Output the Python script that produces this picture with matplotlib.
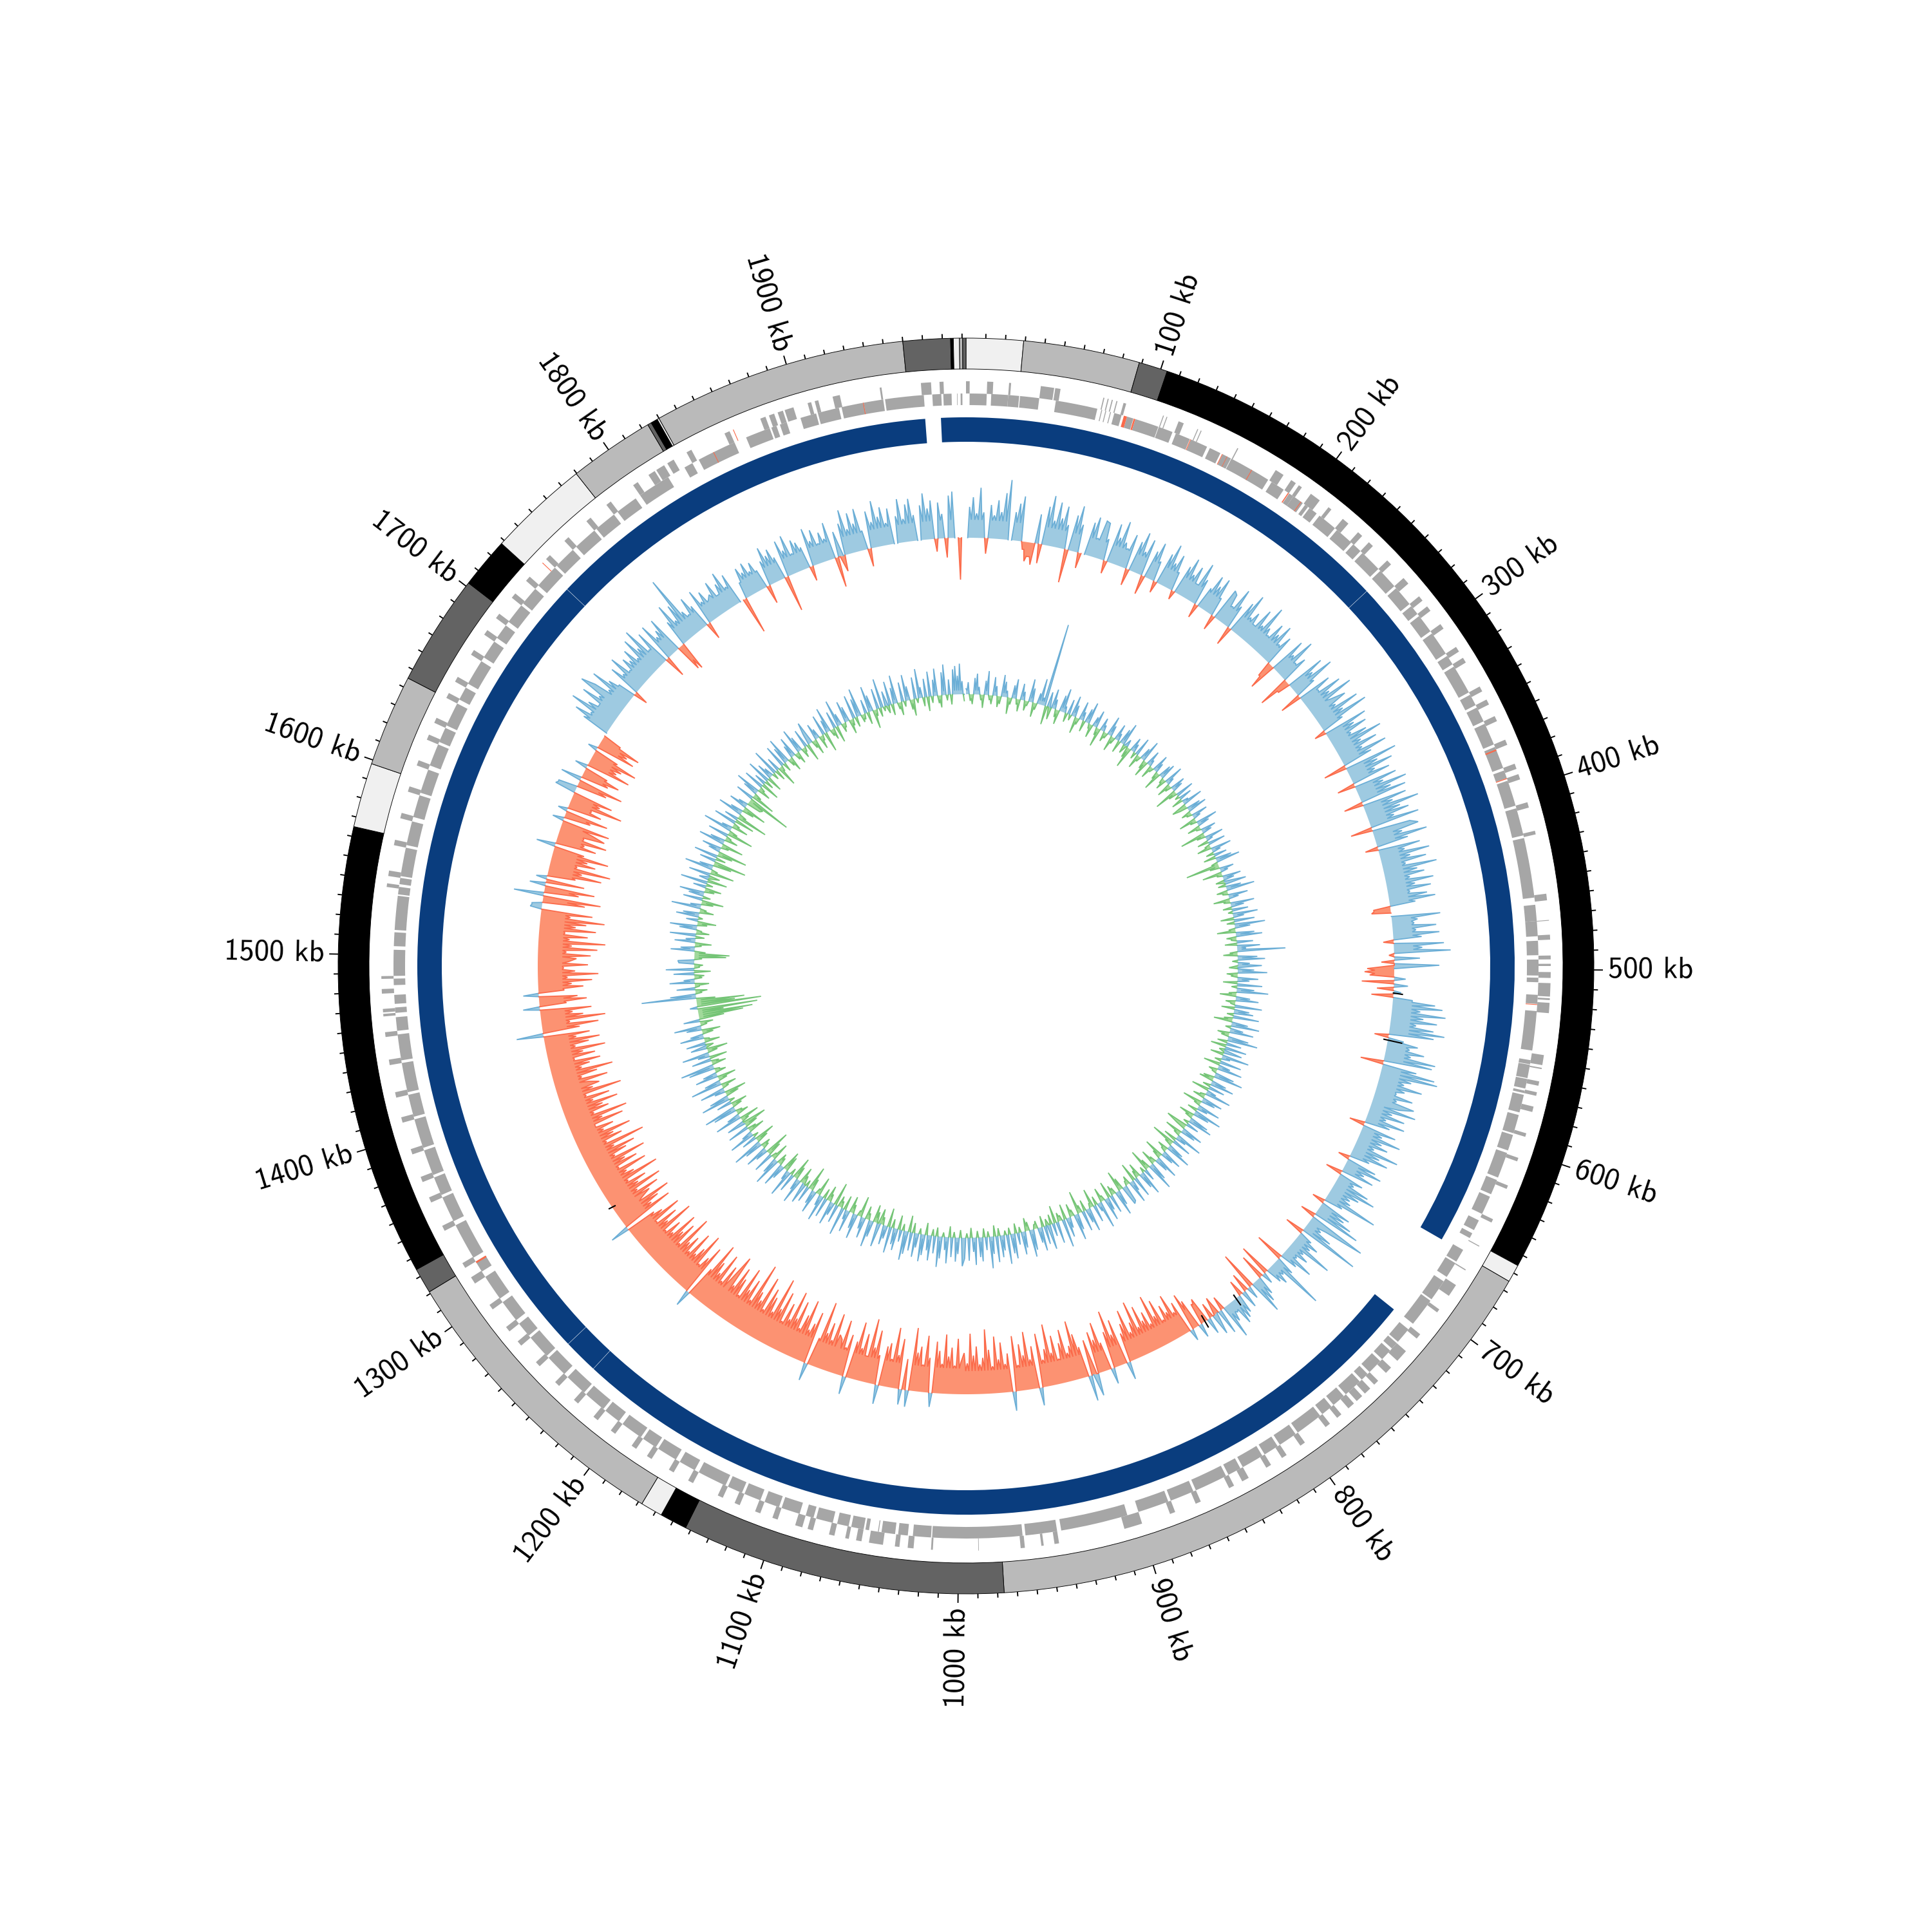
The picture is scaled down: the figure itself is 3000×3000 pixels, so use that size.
import numpy as np
import matplotlib
matplotlib.use("Agg")
import matplotlib.pyplot as plt

GENOME_KB = 1992.0
WINDOW_KB = 2.5

# outer band sectors: start kb, end kb, colour
band_starts = [0, 29.2, 88.7, 103.4, 655.7, 664.8, 976.7, 1142.8, 1156.7, 1168, 1321, 1334, 1565, 1598, 1645, 1702, 1728, 1779.7, 1823.5, 1825.5, 1829, 1830, 1960, 1984.2, 1985.6, 1988.7, 1990.3]
band_ends = [29.2, 88.7, 103.4, 655.7, 664.8, 976.7, 1142.8, 1156.7, 1168, 1321, 1334, 1565, 1598, 1645, 1702, 1728, 1779.7, 1823.5, 1825.5, 1829, 1830, 1960, 1984.2, 1985.6, 1988.7, 1990.3, 1992]
band_colors = ["#f0f0f0", "#bababa", "#636363", "#000000", "#f0f0f0", "#bababa", "#636363", "#000000", "#f0f0f0", "#bababa", "#636363", "#000000", "#f0f0f0", "#bababa", "#636363", "#000000", "#f0f0f0", "#bababa", "#636363", "#000000", "#f0f0f0", "#bababa", "#636363", "#000000", "#f0f0f0", "#bababa", "#636363"]

# contiguous dark-blue segments
contig_starts = [0, 259.7, 712.4, 1232.8, 1253.2, 1734, 1977.5]
contig_ends = [259.5, 663.4, 1232.6, 1253, 1733.8, 1968.4, 1992]

# genes on outer and inner strand (kb)
outer_genes = [(0, 2), (11.5, 14.8), (23.4, 24.5), (40.7, 48), (48.6, 51.5), (75.2, 75.8), (77.6, 78.2), (79.9, 80.5), (82.5, 83.1), (86.5, 88), (109, 109.5), (111, 111.5), (118, 121), (129, 129.5), (131, 131.5), (153, 153.6), (177, 182), (187, 190), (192, 194), (200, 206), (212, 214), (222, 226), (233, 236), (241, 244), (255, 258), (268, 272), (281, 284), (288, 291), (300, 303), (315, 318), (322, 325), (340, 343), (348, 351), (358, 361), (372, 375), (386, 389), (392, 395), (408, 411), (424, 426), (458.7, 462.3), (473, 473.4), (481, 483.7), (492.3, 494.4), (496.8, 498), (501.3, 504.5), (507.3, 514.6), (515.5, 516.5), (518, 523.6), (546.5, 552), (553.5, 554.2), (561, 563.4), (567, 569), (575, 578), (590, 592), (604, 606), (620, 622), (640, 642), (656.2, 656.7), (671, 671.6), (681, 688), (697, 699), (714, 717), (726, 733), (738, 742), (748, 751), (754, 758), (760, 764), (766, 770), (775, 778), (783, 786), (800, 803), (812, 815), (822, 825), (836, 840), (845, 848), (865, 868), (880, 883), (899, 909), (945.3, 947.8), (953.7, 955), (964, 966.3), (989, 989.3), (1014, 1015), (1024.5, 1027.7), (1032.2, 1034.7), (1041.2, 1048.9), (1053, 1056), (1060, 1062), (1068, 1071), (1080, 1083), (1086, 1090), (1100, 1103), (1110, 1113), (1122, 1125), (1132, 1135), (1150, 1153), (1162, 1165), (1176, 1179), (1186, 1189), (1200, 1203), (1212, 1215), (1226, 1229), (1240, 1243), (1255, 1258), (1270, 1273), (1280, 1283), (1295, 1298), (1312, 1316), (1322, 1325), (1345, 1348), (1362, 1365), (1374, 1377), (1390, 1393), (1408, 1411), (1422, 1425), (1440, 1443), (1455.4, 1458), (1466.6, 1468), (1468.8, 1470.7), (1479, 1481.5), (1487, 1488.5), (1537, 1539), (1543, 1546), (1560, 1563), (1575, 1578), (1590, 1593), (1605, 1608), (1620, 1623), (1630, 1633), (1645, 1648), (1655, 1658), (1672, 1675), (1685, 1688), (1696, 1699), (1710, 1713), (1722, 1725), (1738, 1741), (1752, 1755), (1768, 1771), (1782, 1785), (1800, 1803), (1810, 1814), (1815, 1820), (1822, 1826), (1834, 1837), (1857, 1860), (1878, 1881), (1883, 1886), (1888, 1891), (1892, 1897), (1905, 1907), (1909, 1911), (1919, 1923), (1945, 1946), (1967.5, 1973), (1977.6, 1979.8)]
inner_genes = [(2, 11.5), (14, 23.4), (23.4, 29.5), (30, 40.7), (50, 73.4), (75.7, 76.2), (78, 78.5), (80.7, 81.2), (83.1, 87.3), (90.4, 94.1), (95.2, 108.6), (108.9, 117), (119, 127.4), (128, 137.8), (139.5, 146), (147.4, 152.5), (152.8, 176.3), (178.6, 186.5), (190.2, 193), (193, 199.4), (201, 203), (204, 209), (211, 222), (223.5, 234), (235.5, 241), (242.5, 255), (256.5, 268), (269.5, 281), (282.5, 288), (289.5, 300), (301.5, 315), (316.5, 322), (323.5, 340), (341.5, 348), (349.5, 358), (359.5, 372), (373.5, 386), (387.5, 392), (393.5, 408), (409.5, 425), (426.5, 460), (464, 473), (473, 481.5), (484, 492), (494.4, 503.3), (504.5, 507), (514, 519), (523, 545), (550.4, 552.7), (553, 560.5), (561, 566.4), (567.6, 569), (570, 580), (581.5, 592), (593, 602), (603.5, 618), (619.5, 628), (629.5, 640), (644, 650), (652, 655), (662.5, 670), (671, 680), (683, 695), (696, 712), (716, 725), (726, 730), (731.5, 738), (739.5, 748), (749.5, 754), (755.5, 766), (767.5, 775), (776.5, 783), (784.5, 800), (801.5, 812), (813.5, 822), (823.5, 836), (837.5, 845), (846.5, 865), (866.5, 880), (881.5, 899), (905.4, 943), (945.3, 963), (964.6, 1014.8), (1015.4, 1025.5), (1028.3, 1033.7), (1035.4, 1043), (1044.5, 1045), (1050, 1052), (1053, 1060), (1061.5, 1068), (1070.5, 1080), (1081.5, 1086), (1089.5, 1100), (1101.5, 1110), (1112.5, 1122), (1123.5, 1132), (1133.5, 1150), (1152.5, 1162), (1164.5, 1176), (1177.5, 1186), (1187.5, 1200), (1202.5, 1212), (1213.5, 1226), (1227.5, 1240), (1242.5, 1255), (1256.5, 1270), (1271.5, 1280), (1282.5, 1295), (1297.5, 1312), (1315.5, 1322), (1324.5, 1345), (1347.5, 1362), (1363.5, 1374), (1375.5, 1390), (1391.5, 1408), (1409.5, 1422), (1423.5, 1440), (1441.5, 1456), (1458, 1465.6), (1468, 1471), (1473, 1478), (1483.4, 1487), (1488.5, 1503), (1505, 1512.7), (1514, 1533), (1533.8, 1538), (1539.5, 1543), (1544, 1560), (1561.5, 1575), (1577.5, 1590), (1591.5, 1605), (1607.5, 1620), (1621.5, 1630), (1631.5, 1645), (1647.5, 1655), (1657.5, 1672), (1674.5, 1685), (1687.5, 1696), (1698.5, 1710), (1711.5, 1722), (1724.5, 1738), (1739.5, 1752), (1754.5, 1768), (1769.5, 1782), (1784.5, 1797), (1800, 1818.5), (1829, 1834), (1838, 1860), (1867, 1881), (1882, 1885), (1887, 1891), (1899, 1908), (1909, 1921), (1922.5, 1935), (1935, 1946), (1947, 1968.6), (1973.3, 1978.3), (1979.4, 1984), (1987, 1987.3), (1989, 1990)]
red_outer = [(1735, 1735.4), (1862, 1862.4)]
red_inner = [(88.6, 90.4), (94.3, 95.2), (127.6, 128), (147, 147.4), (150, 150.3), (165.5, 165.9), (189.4, 190), (198, 198.4), (375, 375.8), (392, 392.5), (519.2, 519.6), (1321, 1322), (1847, 1847.4), (1934.6, 1935)]

# first signal track, one list per 100 kb
t1_0000 = [0, 48, 63, 38, 78, 40, -24, 52, 36, 60, 42, 72, 93, 0, 44, 58, 70, -12, -30, -22, -34, 46, -30, 60, 78, 40, 70, 46, 66, 38, -52, 56, 72, 44, -24, 0, 52, 62, 30, 60]
t1_0100 = [58, 34, -20, 62, 42, 70, 38, 30, 55, -26, 48, 65, 36, 58, -30, 44, 60, 32, -18, 50, 68, 40, 56, 30, -14, 46, 62, 38, 54, 28, 66, 42, -22, 34, 58, 44, 60, 30, -24, 52]
t1_0200 = [48, 30, 64, 38, -30, 52, 70, 34, 46, 28, 60, 36, 74, 40, 30, 56, 42, 62, 32, 50, -24, -44, 58, 36, 68, 30, 44, -50, -20, 62, 40, 72, 34, -34, 54, 30, 66, 42, 78, 36]
t1_0300 = [60, 38, 74, 44, 82, 36, -18, 70, 46, 64, 34, 58, 80, 42, 66, 38, 76, 48, -36, 84, 50, 72, 40, 62, -28, 68, 44, 80, 52, 74, -30, 70, 46, 86, 54, 66, 40, 78, -34, 60]
t1_0400 = [72, 44, 82, 50, -20, 66, 40, 78, 46, 70, 36, 84, 52, 62, 38, 74, 44, 68, 34, 60, 72, 40, -26, -30, 0, 76, 40, 34, 68, 36, 72, 44, -16, 78, 44, 88, -8, 40, -20, 70]
t1_0500 = [-42, -46, -38, 18, -50, 22, -26, 12, -34, 30, 66, 78, 44, 84, 50, 72, 40, 68, 86, 70, -22, 24, 48, 36, 60, 40, 80, 76, -36, 54, 84, 90, 50, 40, 70, 44, 32, 60, 36, 66]
t1_0600 = [44, 72, 36, 58, 30, 62, 40, -24, 54, 34, 66, 38, 50, 30, 72, 44, 60, 32, -18, 48, 60, 34, 52, -26, 40, 28, 56, 70, 46, 34, 38, 85, 30, -20, 50, 44, 60, 76, -24, 93]
t1_0700 = [30, 24, 46, 96, -30, 22, 38, 28, 69, 24, 36, 20, 52, 28, -45, 30, 87, 22, 34, 26, -50, 18, -40, 30, 40, 55, -60, 20, -30, 28, -25, 30, 36, 42, 18, 30, 55, -22, 40, -28]
t1_0800 = [34, -24, 26, -40, -34, 22, -46, -60, 18, -52, -38, -70, -44, -58, -36, -72, -48, -84, -40, -62, -50, -76, -44, -88, -56, -42, -80, -60, -46, 28, -72, -50, -90, -58, 25, -44, -78, -52, -66, 35]
t1_0900 = [-56, 40, -48, -70, -92, -54, -44, -82, -62, -38, -76, -50, -96, -58, -42, -84, 28, -66, -46, -90, -54, -72, -40, -86, 30, -60, -44, -78, -52, -88, -42, -68, -100, -56, -46, -74, -60, -94, -48, -64]
t1_1000 = [-50, -86, -44, -72, -58, -92, -46, -66, -80, 22, -54, -88, -42, -70, -60, -98, 26, -48, 24, -78, -52, -94, -44, -68, -62, 30, -46, -84, -56, -100, -40, -74, -50, -90, -58, 28, -66, -44, -86, -54]
t1_1100 = [-60, -92, -48, -74, -56, -104, -44, 28, -82, -62, -50, -96, -70, -46, -88, -58, -100, -52, -76, -44, -90, -60, -108, -50, -72, -84, -46, -98, -56, -68, -112, -48, -80, -60, -94, -44, -70, -86, -52, -100]
t1_1200 = [-58, -76, -46, -90, -54, -70, -98, -50, 26, -82, -60, -44, -94, -66, -52, -86, -48, -72, -58, -100, -46, -80, -62, -90, -50, -68, -44, -96, -56, -76, -42, -88, -60, -48, 30, -84, -54, -70, -92, -46]
t1_1300 = [-64, -82, -48, -92, -56, -72, -44, -98, -60, -50, -86, -42, -76, -58, -94, -46, -68, -84, -52, -104, -44, -72, -60, -90, -48, -66, -38, -86, -54, -96, -44, -70, -62, -88, -50, -78, -42, -100, -56, -68]
t1_1400 = [-52, -84, -44, -70, -96, -48, -62, -80, -40, -74, -56, -92, -46, -68, -86, -50, -72, 42, -58, -88, -44, -100, -66, -50, -80, 26, -42, -74, -60, 24, -40, -70, -52, -84, -46, -94, -58, -40, -78, -48]
t1_1500 = [-60, -82, -44, -92, -52, -104, -48, -76, -40, -88, -56, -72, -100, -46, -80, 18, 16, -66, -90, 47, -54, -78, 25, -60, 17, -44, -84, -52, -96, -42, -70, -56, -88, -48, 30, -64, -44, -78, -40, -72]
t1_1600 = [-50, -76, 18, -42, -68, 15, -54, -36, -84, -46, -64, 33, 30, -48, -72, 33, -44, -60, -38, 20, -70, -46, -52, -74, -40, 15, -62, -48, -66, -30, 0, 44, 62, 38, 76, 50, 34, 68, 42, 80]
t1_1700 = [58, 36, 70, 44, 28, -22, 52, 34, 62, 30, 49, 40, 56, 34, 66, 44, 74, 30, 58, -34, 62, 36, 44, 60, -43, -46, 42, 68, 36, 60, 104, 40, 30, 56, 38, -27, 57, 34, 48, 30]
t1_1800 = [36, 54, 28, 44, 60, 32, 50, 0, -58, 26, 48, 38, 51, 34, 46, 30, -29, 40, 60, 44, 52, 36, -56, 58, 40, 62, 30, 50, 44, 34, -23, 60, 38, 54, 30, 46, 34, 58, -47, 40]
t1_1900 = [-25, 50, 70, 38, 62, 44, 66, 30, -28, 58, 40, 72, 46, 60, 34, 56, 0, 42, 68, 36, 58, 66, 40, 0, 54, 72, 48, 60, -20, 56, 38, -30, 66, 72, 0, -65, 0]

# second signal track, one list per 100 kb
t2_0000 = [10, 22, -12, -18, 30, 38, 14, -10, -24, 26, 44, -8, -16, 34, 18, -20, -14, 40, 28, 12, -30, -12, 24, 36, -10, -22, 30, 16, -18, -8, 42, 26, -26, -12, 20, 48, 14, 154, -34, 28]
t2_0100 = [-22, 36, 18, -14, -26, 30, 44, 12, -16, 28, -10, 38, 22, -30, -12, 34, 16, -20, 26, 40, -8, -24, 18, 32, -14, -34, 24, 12, -18, -10, 36, 20, -28, -12, 30, 14, -22, 28, 42, -16]
t2_0200 = [14, -20, -38, 26, 16, -12, 34, -26, -10, 22, 40, -16, -30, 28, 12, -24, -8, 32, 18, -14, -34, 24, 30, -10, -20, 36, 14, -26, -12, 28, 20, -42, -16, 34, -8, 24, -20, 12, 38, -28]
t2_0300 = [-14, 26, 36, -18, -10, 30, 14, -32, -12, 40, 22, -24, -8, 28, 18, -46, -16, 34, 12, -20, 32, -10, -26, 38, 16, -14, 24, -22, 30, 44, -12, -62, -18, 26, 14, -36, -10, 34, 20, -16]
t2_0400 = [40, -14, 28, 52, -20, -10, 36, 18, -30, -12, 44, 24, -16, 30, -8, 46, 20, -24, 38, -14, 56, 28, -12, -34, 34, 48, -18, -10, 30, -22, 42, 16, 88, -14, -26, 36, 50, -10, 22, 44]
t2_0500 = [-16, 30, 54, -20, -12, 38, 22, -26, 46, -10, 32, 58, -14, -30, 26, 42, -18, -8, 50, -24, 28, 36, -12, 48, -16, -34, 30, 52, -10, 24, 44, -22, -14, 38, 56, -18, 28, -28, 40, -10]
t2_0600 = [34, -24, 50, 16, -12, 40, -30, 22, 46, -16, -8, 36, 54, -20, -26, 28, 44, -14, 30, -32, 18, 48, -10, -22, 38, 26, -36, -12, 42, 20, -18, 52, 30, -28, -14, 36, 46, -10, 24, -40]
t2_0700 = [-18, 40, 28, -32, -12, 50, 20, -24, 36, -44, -14, 30, 48, -20, -10, 38, 24, -36, -16, 44, 26, -12, -28, 34, 52, -18, -40, 22, -10, 46, 30, -26, -14, 38, -34, 20, 42, -16, -8, 32]
t2_0800 = [36, -22, -38, 28, 46, -12, -18, 34, -30, 24, 42, -10, -26, 50, 16, -16, 32, -34, -8, 44, 26, -20, 38, -14, -42, 30, 48, -12, -24, 20, 36, -28, 52, -10, -16, 40, -32, 24, -18, 46]
t2_0900 = [-12, 34, -20, 44, 28, -14, -8, 38, 50, -16, -24, 30, 42, -10, 22, -18, 46, 36, -12, 54, -8, 28, 40, -14, 48, -20, 32, 58, -10, 24, -16, 44, 36, -12, 50, 26, -18, 42, -8, 38]
t2_1000 = [52, -14, 30, 44, -10, 36, -20, 48, 24, -8, 40, 56, -16, 32, -12, 46, 28, -22, 38, 50, -10, 26, 44, -18, 34, -30, 42, 54, -12, 22, -26, 40, 30, -16, 48, -34, 24, 36, -14, -28]
t2_1100 = [44, -20, -32, 30, 50, -12, -24, 38, 22, -38, -10, 46, 28, -16, -30, 40, 18, -26, 52, -12, -20, 34, -42, 24, 44, -14, -28, 36, -18, 48, 20, -34, -10, 42, 26, -22, -44, 30, -12, 38]
t2_1200 = [-16, -30, 46, 22, -24, -40, 34, -12, 50, 18, -28, -36, 26, 44, -14, -20, 52, 30, -32, -10, 38, -26, -46, 24, 42, -12, -18, 34, 56, -22, -38, 28, -10, 48, 20, -30, -16, 40, -24, -44]
t2_1300 = [34, -14, -36, 50, 24, -22, -12, 44, 60, -18, -30, 28, -10, 54, 36, -24, -40, 20, 46, -12, -28, 58, 30, -16, -34, 42, 26, -20, -10, 48, 62, -26, -14, 36, -32, 22, 50, -18, -38, 30]
t2_1400 = [-14, 36, -28, -10, 44, 24, -20, -34, 28, 50, -12, -24, 30, -46, -82, -100, -47, -110, 14, -118, -70, -88, -35, 100, 47, -12, -22, 34, -8, -26, 46, 20, -14, -18, 38, -30, 52, -10, -16, 28]
t2_1500 = [30, -14, -58, -64, -20, 44, 26, -12, -30, 38, 18, -16, 48, -24, -10, 32, 50, -18, -34, 22, -8, 42, 30, -26, -12, 54, 20, -22, -40, 36, -14, 28, 46, -18, -30, 24, -12, 50, -36, 18]
t2_1600 = [-20, 40, -44, -12, 52, 26, -34, -60, 30, -18, 44, -28, -54, 22, 36, -14, -40, 48, 28, -24, -10, 38, -48, -16, 54, 20, -30, -12, 42, -36, 26, -58, -14, 46, 24, -22, -44, 34, 18, -26]
t2_1700 = [-30, -82, 34, -44, -14, 28, 46, -24, -10, 38, -34, 22, -16, 44, -28, 30, 18, -12, 50, -20, 26, -38, -10, 42, -16, 32, 48, -14, -26, 24, 38, -12, -22, 46, 28, -18, -8, 34, -32, 20]
t2_1800 = [42, -14, -28, 30, 18, -24, -10, 38, -36, 24, 46, -12, -20, 32, -30, 50, 22, -16, -8, 40, 28, -26, -12, 44, -18, 34, 52, -14, -10, 26, -22, 48, 30, -34, -12, 38, -16, 54, -8, 28]
t2_1900 = [-14, 44, -20, 30, 52, -12, -24, 36, -10, 48, 26, -18, -30, 40, -8, 54, 20, -16, 34, -26, 46, -12, 30, 50, -14, -22, 42, 56, -10, 28, -18, 46, 52, 34, 56, 24, -12]

# height of the solid band under the needles, one value per 100 kb
t1_band = [28, 28, 28, 28, 30, 30, 20, 15, 32, 36, 40, 40, 40, 38, 38, 38, 34, 28, 28, 28]
t2_band = [7, 7, 7, 7, 8, 8, 8, 8, 8, 8, 8, 8, 8, 8, 8, 8, 8, 7, 7, 7]

track1_rows = [t1_0000, t1_0100, t1_0200, t1_0300, t1_0400, t1_0500, t1_0600, t1_0700, t1_0800, t1_0900, t1_1000, t1_1100, t1_1200, t1_1300, t1_1400, t1_1500, t1_1600, t1_1700, t1_1800, t1_1900]
track2_rows = [t2_0000, t2_0100, t2_0200, t2_0300, t2_0400, t2_0500, t2_0600, t2_0700, t2_0800, t2_0900, t2_1000, t2_1100, t2_1200, t2_1300, t2_1400, t2_1500, t2_1600, t2_1700, t2_1800, t2_1900]

black_marks = [(518, 0, 14), (553, -6, 22), (779.5, -6, 12), (808, -10, 10), (1304, -5, 5)]

major_ticks = list(range(100, 2000, 100))
minor_ticks = [t for t in range(10, 2000, 10) if t % 100 != 0]

LINE_BLUE, FILL_BLUE = "#6baed6", "#9ecae1"
LINE_RED, FILL_RED = "#fb6a4a", "#fc9272"
LINE_GREEN, FILL_GREEN = "#74c476", "#a1d99b"
CONTIG = "#0a3d7e"
GENE = "#a6a6a6"
T2_SCALE = 0.85


def th(kb):
    return np.deg2rad(np.asarray(kb, dtype=float) * 360.0 / GENOME_KB)


def series(rows, band):
    """Each window is drawn as a needle: between two windows of the same sign
    the outline drops to the band height, between opposite signs to zero."""
    kb, val = [], []
    for i, row in enumerate(rows):
        for j, v in enumerate(row):
            kb.append(100 * i + j * WINDOW_KB)
            val.append(v)
            nxt = row[j + 1] if j + 1 < len(row) else None
            if nxt is None:
                continue
            kb.append(100 * i + (j + 0.5) * WINDOW_KB)
            if v * nxt > 0:
                sgn = 1 if v > 0 else -1
                val.append(sgn * min(band[i], abs(v), abs(nxt)))
            else:
                val.append(0)
    return np.array(kb), np.array(val, dtype=float)


def draw_signed(ax, kb, val, r0, sign, line, fill):
    on = sign * val > 0
    keep = on | np.roll(on, 1) | np.roll(on, -1)
    y = np.where(on, val, 0.0)
    t = th(kb)
    ax.fill_between(t, r0, r0 + y, where=keep, color=fill, lw=0, zorder=3)
    ax.plot(t, np.ma.masked_array(r0 + y, ~keep), color=line, lw=0.42, zorder=4, solid_joinstyle="miter")


def draw_genes(ax, genes, r_in, r_out, color, zorder=3):
    s = np.array([g[0] for g in genes], dtype=float)
    e = np.array([g[1] for g in genes], dtype=float)
    ax.bar(th((s + e) / 2), r_out - r_in, width=th(e - s), bottom=r_in, color=color, lw=0, zorder=zorder)


fig = plt.figure(figsize=(10, 10), dpi=300)
ax = fig.add_axes([0, 0, 1, 1], projection="polar")
ax.set_theta_zero_location("N")
ax.set_theta_direction(-1)
ax.set_ylim(0, 1500)
ax.set_axis_off()

# outer band
s = np.array(band_starts)
e = np.array(band_ends)
ax.bar(th((s + e) / 2), 48, width=th(e - s), bottom=927, color=band_colors, edgecolor="black", lw=0.22, zorder=3)

# ticks and labels
ax.vlines(th(minor_ticks), 975, 982, color="black", lw=0.45, zorder=2)
ax.vlines(th(major_ticks), 975, 989, color="black", lw=0.45, zorder=2)
for t in major_ticks:
    deg = t * 360.0 / GENOME_KB
    right = deg < 180
    ax.text(th(t), 997, f"{t} kb", family="cmss10", fontsize=11.2, va="center",
            ha="left" if right else "right", rotation=(90 - deg) if right else (270 - deg),
            rotation_mode="anchor", color="black")

# genes
draw_genes(ax, outer_genes, 889, 908, GENE)
draw_genes(ax, inner_genes, 871, 889, GENE)
draw_genes(ax, red_outer, 889, 908, LINE_RED, 4)
draw_genes(ax, red_inner, 871, 889, LINE_RED, 4)

# contig ring
s = np.array(contig_starts)
e = np.array(contig_ends)
ax.bar(th((s + e) / 2), 38, width=th(e - s), bottom=814, color=CONTIG, lw=0, zorder=3)

# signal tracks
k1, v1 = series(track1_rows, t1_band)
draw_signed(ax, k1, v1, 665, 1, LINE_BLUE, FILL_BLUE)
draw_signed(ax, k1, v1, 665, -1, LINE_RED, FILL_RED)
k2, v2 = series(track2_rows, t2_band)
draw_signed(ax, k2, T2_SCALE * v2, 422, 1, LINE_BLUE, FILL_BLUE)
draw_signed(ax, k2, T2_SCALE * v2, 422, -1, LINE_GREEN, FILL_GREEN)
for kb_pos, lo, hi in black_marks:
    ax.plot(th([kb_pos, kb_pos + 0.6]), [665 + lo, 665 + hi], color="black", lw=0.5, zorder=5)

fig.savefig("out.png", dpi=300)
